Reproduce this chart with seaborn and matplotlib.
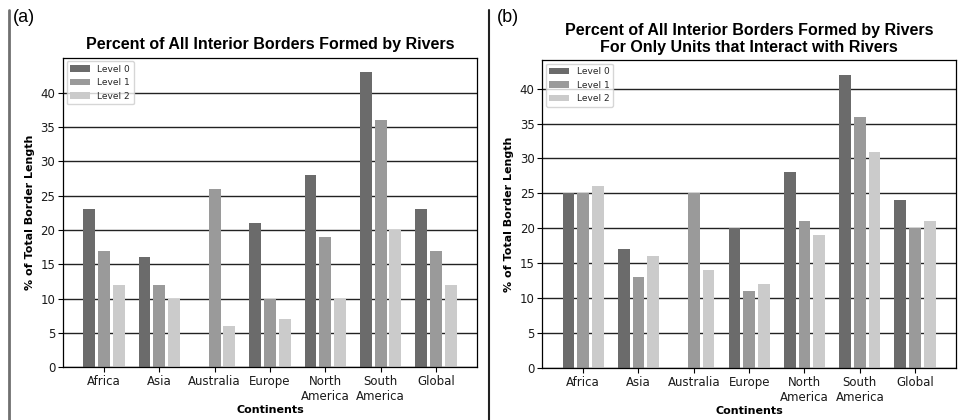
import pandas as pd
import matplotlib
matplotlib.use('Agg')
import matplotlib.pyplot as plt
import seaborn as sns
from matplotlib.lines import Line2D

# ---------------------------------------------------
# data
continents = ['Africa', 'Asia', 'Australia', 'Europe', 'North\nAmerica', 'South\nAmerica', 'Global']
levels = ['Level 0', 'Level 1', 'Level 2']

# (a) all interior borders
all_level0 = [23, 16, 0, 21, 28, 43, 23]
all_level1 = [17, 12, 26, 10, 19, 36, 17]
all_level2 = [12, 10, 6, 7, 10, 20, 12]

# (b) only units that interact with rivers
river_level0 = [25, 17, 0, 20, 28, 42, 24]
river_level1 = [25, 13, 25, 11, 21, 36, 20]
river_level2 = [26, 16, 14, 12, 19, 31, 21]

colors = ['#6b6b6b', '#9a9a9a', '#cbcbcb']


def to_long(l0, l1, l2):
    rows = []
    for lvl, vals in zip(levels, [l0, l1, l2]):
        for c, v in zip(continents, vals):
            rows.append({'Continent': c, 'Level': lvl, 'Percent': v})
    return pd.DataFrame(rows)


df_all = to_long(all_level0, all_level1, all_level2)
df_river = to_long(river_level0, river_level1, river_level2)

sns.set_theme(style='white')
plt.rcParams['font.family'] = ['DejaVu Sans']

fig = plt.figure(figsize=(9.58, 4.2), dpi=100)
ax_a = fig.add_axes([0.0658, 0.126, 0.432, 0.737])
ax_b = fig.add_axes([0.566, 0.124, 0.432, 0.733])


def draw_panel(ax, df, title):
    sns.barplot(data=df, x='Continent', y='Percent', hue='Level', palette=colors,
                width=0.8, gap=0.2, ax=ax, saturation=1, linewidth=0)
    ax.set_xlim(-0.74, 6.74)
    ax.set_yticks(range(0, 45, 5))
    ax.yaxis.grid(True, color='#222222', linewidth=1.0)
    ax.set_axisbelow(True)
    for s in ax.spines.values():
        s.set_color('black')
        s.set_linewidth(0.9)
    ax.tick_params(axis='both', labelsize=8.5, length=3.5, width=0.8,
                   bottom=True, left=True, color='black', labelcolor='#1a1a1a', pad=2)
    ax.set_xlabel('Continents', fontsize=8, fontweight='bold', labelpad=2, color='black')
    ax.set_ylabel('% of Total Border Length', fontsize=8, fontweight='bold', labelpad=4,
                  color='black')
    ax.set_title(title, fontsize=11.5, fontweight='bold', family=['Liberation Sans'], pad=6,
                 linespacing=1.15, color='black')
    ax.legend(loc='upper left', fontsize=6.5, frameon=True, edgecolor='#cccccc',
              fancybox=True, borderaxespad=0.4, handlelength=2.2)


draw_panel(ax_a, df_all, 'Percent of All Interior Borders Formed by Rivers')
draw_panel(ax_b, df_river, 'Percent of All Interior Borders Formed by Rivers\n'
                           'For Only Units that Interact with Rivers')

# panel labels and dividers
fig.text(0.013, 0.978, '(a)', fontsize=13, family=['Liberation Sans'], va='top', ha='left',
         color='black')
fig.text(0.519, 0.978, '(b)', fontsize=13, family=['Liberation Sans'], va='top', ha='left',
         color='black')
fig.add_artist(Line2D([0.0095, 0.0095], [0.0, 0.976], transform=fig.transFigure,
                      color='#707070', linewidth=2))
fig.add_artist(Line2D([0.5105, 0.5105], [0.0, 0.976], transform=fig.transFigure,
                      color='#222222', linewidth=1.5))

plt.savefig('out.png', dpi=100)
plt.close()
